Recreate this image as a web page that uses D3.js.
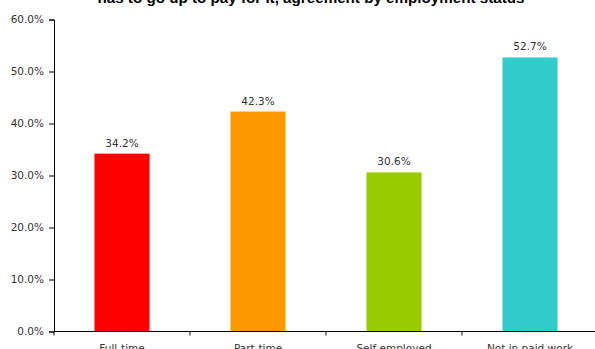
<!DOCTYPE html>
<html>
<head>
<meta charset="utf-8">
<script src="https://cdn.jsdelivr.net/npm/d3@7/dist/d3.min.js"></script>
<style>
  html, body { margin: 0; padding: 0; background: #fff; overflow: hidden; }
  svg { display: block; }
</style>
</head>
<body>
<svg id="chart" width="595" height="349"></svg>
<script>
// Share agreeing, by employment status
const categories = ["Full-time", "Part-time", "Self employed", "Not in paid work"];
const values = [34.2, 42.3, 30.6, 52.7];
const colors = ["#FF0000", "#FF9900", "#99CC00", "#33CCCC"];
const yTicks = [0, 10, 20, 30, 40, 50, 60];
const title = "has to go up to pay for it, agreement by employment status";

const svg = d3.select("#chart");
const margin = { left: 54, right: -3, top: 19.5, bottom: 17.5 };
const W = 595, H = 349;

const x = d3.scaleBand()
  .domain(categories)
  .range([margin.left, W - margin.right])
  .paddingInner(0.595)
  .paddingOuter(0.2975);

const y = d3.scaleLinear()
  .domain([0, 60])
  .range([H - margin.bottom, margin.top]);

const font = "'DejaVu Sans', Verdana, sans-serif";
const textColor = "#333333";

// Title (wraps above the visible area; last line shown)
svg.append("text")
  .attr("x", 311)
  .attr("y", 3)
  .attr("text-anchor", "middle")
  .style("font-family", "'Liberation Sans', Arial, sans-serif")
  .style("font-weight", "bold")
  .style("font-size", "15.2px")
  .style("fill", "#000")
  .text(title);

// Bars
svg.append("g").selectAll("rect")
  .data(values)
  .join("rect")
  .attr("x", (d, i) => x(categories[i]))
  .attr("width", x.bandwidth())
  .attr("y", d => y(d))
  .attr("height", d => y(0) - y(d))
  .attr("fill", (d, i) => colors[i]);

// Value labels
svg.append("g").selectAll("text")
  .data(values)
  .join("text")
  .attr("x", (d, i) => x(categories[i]) + x.bandwidth() / 2)
  .attr("y", d => y(d) - 7)
  .attr("text-anchor", "middle")
  .style("font-family", font)
  .style("font-size", "10.5px")
  .style("fill", textColor)
  .text(d => d.toFixed(1) + "%");

// Y axis
const yAxis = svg.append("g")
  .attr("transform", `translate(${margin.left},0)`)
  .call(d3.axisLeft(y).tickValues(yTicks).tickSize(5).tickPadding(5)
    .tickFormat(d => d.toFixed(1) + "%"));
yAxis.selectAll("path, line").attr("stroke", "#000");
yAxis.selectAll("text")
  .style("font-family", font)
  .style("font-size", "10.5px")
  .style("fill", textColor);

// X axis with ticks at category boundaries
const xAxisG = svg.append("g").attr("transform", `translate(0,${y(0)})`);
xAxisG.append("line")
  .attr("x1", margin.left).attr("x2", W)
  .attr("stroke", "#000");
const step = x.step();
const bounds = d3.range(categories.length + 1).map(i => margin.left + i * step);
xAxisG.selectAll("line.tick")
  .data(bounds)
  .join("line")
  .attr("class", "tick")
  .attr("x1", d => d).attr("x2", d => d)
  .attr("y1", 0).attr("y2", 4)
  .attr("stroke", "#000");
xAxisG.selectAll("text")
  .data(categories)
  .join("text")
  .attr("x", d => x(d) + x.bandwidth() / 2)
  .attr("y", 20)
  .attr("text-anchor", "middle")
  .style("font-family", font)
  .style("font-size", "10.5px")
  .style("fill", textColor)
  .text(d => d);
</script>
</body>
</html>
